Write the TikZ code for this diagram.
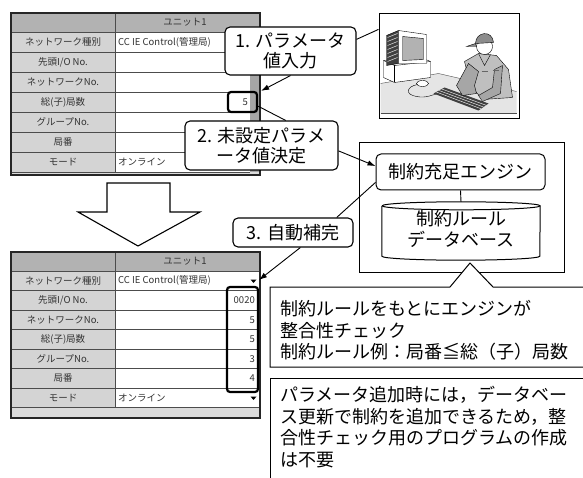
\documentclass[tikz,border=0pt]{standalone}
\usepackage{fontspec}
\newfontfamily\jpfont{Noto Sans CJK JP}
\usetikzlibrary{arrows.meta}
\usetikzlibrary{calc}

\tikzset{
  callout/.style={draw, rounded corners=5pt, fill=white, line width=1.1pt, inner sep=0pt,
    align=center, font=\jpfont\fontsize{18}{19.5}\selectfont},
  hilite/.style={draw, rounded corners=3pt, line width=2.2pt, inner sep=0pt},
  cell/.style={font=\jpfont\fontsize{9.5}{10}\selectfont, text=black!80, inner sep=1pt},
  rowline/.style={black!70, line width=0.6pt},
  note/.style={font=\jpfont\fontsize{18}{21.7}\selectfont, align=left, inner sep=0pt, anchor=north west},
  pointer/.style={line width=0.9pt, -{Latex[length=8pt,width=5.5pt]}},
  link/.style={line width=0.9pt},
}

% #1 top, #2 row height, #3 name prefix, #4 end of row lines, #5 bottom
\newcommand\settable[5]{%
  \fill[black!30] (11,#1) rectangle (260,{#1+19});
  \fill[black!17] (11,{#1+19}) rectangle (115,{#1+19+7*#2});
  \fill[black!14] (11,{#1+19+7*#2}) rectangle (260,#5);
  \foreach \lab [count=\i from 0] in {ネットワーク種別, {先頭I/O No.}, ネットワークNo., 総(子)局数, グループNo., 局番, モード}{
    \node[cell] (#3lab\i) at (63,{#1+19+(\i+0.5)*#2}) {\lab};
    \draw[rowline] (11,{#1+19+(\i+1)*#2}) -- (#4,{#1+19+(\i+1)*#2});
  }
  \draw[rowline] (11,{#1+19}) -- (#4,{#1+19});
  \draw[rowline] (115,#1) -- (115,{#1+19+7*#2});
  \node[cell] (#3head) at (185,{#1+9.5}) {ユニット1};
  \draw[line width=1.1pt, black!85] (11,#1) rectangle (260,#5);
}

\begin{document}
\begin{tikzpicture}[x=1pt, y=-1pt]
  \fill[white] (0,0) rectangle (583,478);
  \useasboundingbox (0,0) rectangle (583,478);

  % settings before
  \fill[black!35] (250,13.6) rectangle (259.4,174.4);
  \settable{13}{20}{a}{250}{175}
  \node[cell, anchor=west] (anet) at (117,42) {CC IE Control(管理局)};
  \node[cell, anchor=west] (amode) at (117,162) {オンライン};
  \node[cell, anchor=east] (asta) at (249,102) {5};
  \node[hilite, minimum width=29pt, minimum height=20pt] (five) at (242.5,102) {};

  % settings after
  \settable{252}{19.5}{b}{260}{418}
  \node[cell, anchor=west] (bnet) at (117,280.75) {CC IE Control(管理局)};
  \node[cell, anchor=west] (bmode) at (117,397.75) {オンライン};
  \foreach \v [count=\i] in {0020,5,5,3,4}
    \node[cell, anchor=east] (bval\i) at (256,{271+(\i+0.5)*19.5}) {\v};
  \fill (250.5,279.5) -- (256.5,279.5) -- (253.5,283) -- cycle;
  \fill (250.5,396.5) -- (256.5,396.5) -- (253.5,400) -- cycle;
  \node[hilite, minimum width=31pt, minimum height=105pt] (filled) at (242.5,339.5) {};
  \coordinate (drop) at (259,280);

  % hollow arrow between the two tables
  \draw[line width=1.1pt] (107,183) -- (170,183) -- (170,212) -- (200,212) -- (138,246)
    -- (78,212) -- (107,212) -- cycle;

  % operator at the terminal
  \node[draw, line width=1pt, minimum width=140pt, minimum height=105pt] (photo) at (449,66.5) {};
  \begin{scope}[shift={(photo.north west)}]
    \fill[black!10] (2,70) -- (60,60) -- (138,78) -- (138,100) -- (2,100) -- cycle;
    \draw[black!70] (2,70) -- (60,60) -- (138,78);
    \draw[black!70] (2,100) -- (138,100);
    \draw[fill=white] (5,47) -- (40,43) -- (52,48) -- (52,64) -- (16,69) -- (5,64) -- cycle;
    \draw (5,47) -- (16,52) -- (52,48);
    \draw (16,52) -- (16,69);
    \draw[fill=black!75] (8,22) -- (20,17) -- (20,50) -- (8,52) -- cycle;
    \foreach \h in {24,28,...,48}
      \draw[white, line width=0.4pt] (9,\h) -- (19,{\h-4});
    \draw[fill=white] (20,17) -- (48,21) -- (48,50) -- (20,50) -- cycle;
    \draw[fill=black!30] (24,23) -- (45,25) -- (45,46) -- (24,47) -- cycle;
    \draw[fill=white] (44,70) ellipse[x radius=6, y radius=3];
    \draw (39,71) .. controls (28,73) and (26,81) .. (38,83) .. controls (48,85) and (54,81) .. (60,80);
    \fill[black!75] (55,80) -- (66,74) -- (110,90) -- (100,97) -- cycle;
    \foreach \t in {0.25,0.5,0.75}
      \draw[white, line width=0.4pt] ($(55,80)!\t!(66,74)$) -- ($(100,97)!\t!(110,90)$);
    \draw[fill=black!25] (86,48) -- (100,40) -- (118,42) -- (130,56) -- (134,84) -- (104,86) -- (92,72) -- cycle;
    \draw[fill=black!35] (90,50) -- (78,72) -- (84,82) -- (98,80) -- (96,72) -- (100,58) -- cycle;
    \draw[fill=black!35] (124,52) -- (122,80) -- (104,88) -- (100,82) -- (114,74) -- (116,56) -- cycle;
    \draw (100,40) -- (106,52) -- (112,41);
    \draw[black!60] (103,58) -- (109,58);
    \draw[black!60] (114,57) -- (120,57);
    \draw[fill=white] (106,33) circle[radius=8];
    \draw[fill=black!45] (97,30) .. controls (97,18) and (114,16) .. (115,29) -- cycle;
    \draw[fill=black!45] (97,30) -- (88,33) -- (98,33) -- cycle;
  \end{scope}

  % constraint engine and rule database
  \draw[line width=1pt] (359,143) rectangle (564,272);
  \node[draw, rounded corners=5pt, line width=1pt, minimum width=169pt, minimum height=36pt,
    font=\jpfont\fontsize{18}{20}\selectfont] (engine) at (460.5,172) {制約充足エンジン};
  \node[minimum width=158pt, minimum height=54pt, inner sep=0pt, align=center,
    font=\jpfont\fontsize{18}{21}\selectfont] (db) at (461,229) {制約ルール\\データベース};
  \draw[line width=1pt] ([yshift=-4pt]db.north west) -- (db.south west)
    arc[start angle=180, end angle=360, x radius=79pt, y radius=4pt]
    -- ([yshift=-4pt]db.north east)
    arc[start angle=0, end angle=180, x radius=79pt, y radius=4pt];
  \draw[line width=1pt] ([yshift=-4pt]db.north east)
    arc[start angle=0, end angle=-180, x radius=79pt, y radius=4pt];
  \draw[link] (engine.south) -- (db.north);

  % notes
  \draw[fill=white, line width=1pt] (270,287) -- (450,287) -- (470,263) -- (493,287) -- (590,287)
    -- (590,367) -- (270,367) -- cycle;
  \node[note] (rule) at (280,300) {制約ルールをもとにエンジンが\\整合性チェック\\制約ルール例：局番≦総（子）局数};
  \draw[line width=1pt] (590,378) -- (270,378) -- (270,490);
  \node[note] (merit) at (280,386) {パラメータ追加時には，データベー\\ス更新で制約を追加できるため，整\\合性チェック用のプログラムの作成\\は不要};

  % steps
  \node[callout, minimum width=131pt, minimum height=48pt] (c1) at (290.5,51) {1. パラメータ\\値入力};
  \node[callout, minimum width=153pt, minimum height=49pt] (c2) at (261.5,145.5) {2. 未設定パラメ\\ータ値決定};
  \node[callout, minimum width=120pt, minimum height=29pt] (c3) at (293,232.5) {3. 自動補完};

  \draw[pointer] (c1.south) -- ($(five.north east)+(3,0)$);
  \draw[link] (c1.10) -- ($(photo.north west)!0.15!(photo.south west)$);
  \draw[link] (five.-15) -- (c2.46);
  \draw[pointer] (c2.-4) -- (engine.176);
  \draw[link] (engine.187) -- (c3.19);
  \draw[pointer] (c3.-64) -- (drop);
\end{tikzpicture}
\end{document}
